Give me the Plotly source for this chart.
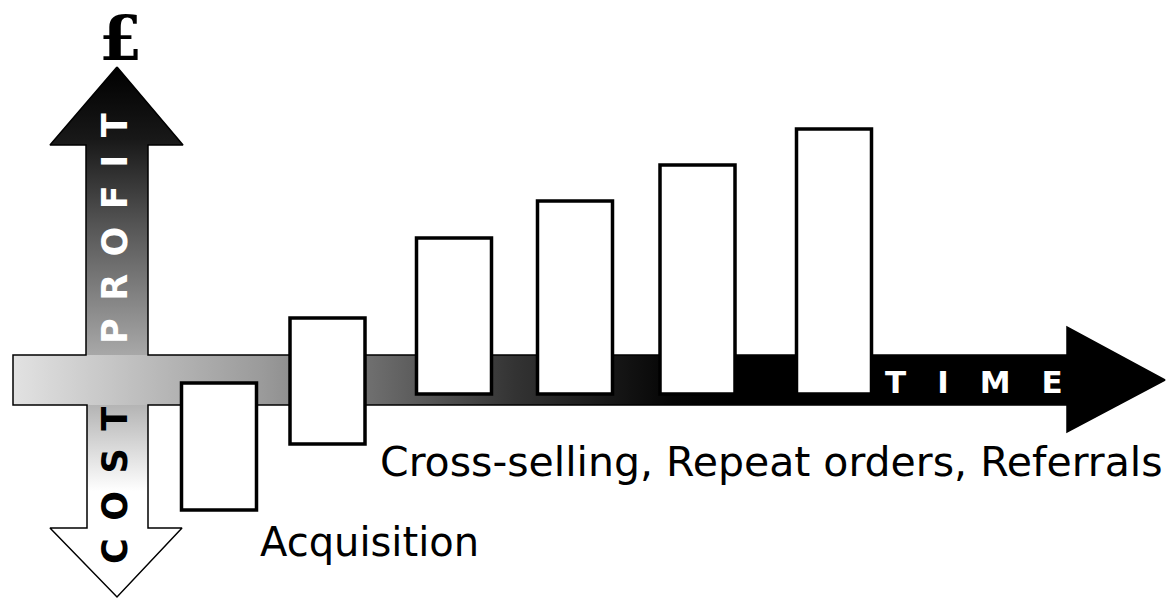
import plotly.graph_objects as go

# Bar data (diagram units, 0 = time axis)
stage_x = [219, 327.5, 454, 575, 697.5, 834]
stage_base = [-130, -64, -14, -14, -14, -14]
stage_top = [-3, 62, 142, 179, 215, 251]
stage_height = [t - b for t, b in zip(stage_top, stage_base)]

# Arrow geometry (decoration)
X_RANGE = [0, 1166]
Y_RANGE = [-219, 380]

h_arrow_x = [13, 1067, 1067, 1165, 1067, 1067, 13, 13]
h_arrow_y = [25, 25, 53, 0, -52, -25, -25, 25]
up_arrow_x = [86, 86, 50, 117, 183, 148, 148, 86]
up_arrow_y = [25, 235, 235, 313, 235, 235, 25, 25]
down_arrow_x = [87, 87, 50, 117, 182, 148, 148, 87]
down_arrow_y = [-25, -148, -148, -217, -148, -148, -25, -25]
outline_x = [117, 183, 148, 148, 1067, 1067, 1165, 1067, 1067, 148, 148, 182, 117,
             50, 87, 87, 13, 13, 86, 86, 50, 117]
outline_y = [313, 235, 235, 25, 25, 53, 0, -52, -25, -25, -148, -148, -217,
             -148, -148, -25, -25, 25, 25, 235, 235, 313]

fig = go.Figure()

# horizontal (time) arrow
fig.add_trace(go.Scatter(
    x=h_arrow_x, y=h_arrow_y, mode="lines", fill="toself",
    line=dict(width=0),
    fillgradient=dict(type="horizontal", start=13, stop=730,
                      colorscale=[[0, "#e2e2e2"], [0.35, "#9a9a9a"],
                                  [0.7, "#333333"], [0.92, "#050505"], [1, "#000000"]]),
    hoverinfo="skip"
))
# profit arrow
fig.add_trace(go.Scatter(
    x=up_arrow_x, y=up_arrow_y, mode="lines", fill="toself",
    line=dict(width=0),
    fillgradient=dict(type="vertical", start=25, stop=313,
                      colorscale=[[0, "#a8a8a8"], [0.45, "#555555"],
                                  [0.75, "#181818"], [1, "#000000"]]),
    hoverinfo="skip"
))
# cost arrow
fig.add_trace(go.Scatter(
    x=down_arrow_x, y=down_arrow_y, mode="lines", fill="toself",
    line=dict(width=0),
    fillgradient=dict(type="vertical", start=-217, stop=-25,
                      colorscale=[[0, "#ffffff"], [0.55, "#ffffff"], [1, "#b4b4b4"]]),
    hoverinfo="skip"
))
# cross outline
fig.add_trace(go.Scatter(
    x=outline_x, y=outline_y, mode="lines",
    line=dict(color="black", width=1.5),
    hoverinfo="skip"
))

# floating bars on an overlay axis so they sit above the arrows
fig.add_trace(go.Bar(
    x=stage_x, y=stage_height, base=stage_base, width=75,
    marker=dict(color="white", line=dict(color="black", width=3.5)),
    xaxis="x2", yaxis="y2", hoverinfo="skip"
))

EN = "\u2002"
EM = "\u2003"
bold = dict(family="DejaVu Sans", weight="bold")
annotations = [
    dict(x=120, y=380, text="£", yanchor="top",
         font=dict(family="DejaVu Serif", weight="bold", size=62, color="black")),
    dict(x=115, y=151, text=EN.join("PROFIT"), textangle=-90,
         font=dict(**bold, size=35, color="white")),
    dict(x=115, y=-106, text=EN.join("COST"), textangle=-90,
         font=dict(**bold, size=35, color="black")),
    dict(x=974, y=-2, text=EM.join("TIME"),
         font=dict(**bold, size=31, color="white")),
    dict(x=771, y=-82, text="Cross-selling, Repeat orders, Referrals",
         font=dict(family="DejaVu Sans", size=41, color="black")),
    dict(x=369, y=-162, text="Acquisition",
         font=dict(family="DejaVu Sans", size=40, color="black")),
]
for a in annotations:
    a.setdefault("yanchor", "middle")
    a.update(showarrow=False, xref="x", yref="y", xanchor="center")

axis_style = dict(visible=False, showgrid=False, zeroline=False, fixedrange=True)
fig.update_layout(
    width=1166, height=599,
    margin=dict(l=0, r=0, t=0, b=0),
    paper_bgcolor="white", plot_bgcolor="white",
    showlegend=False,
    xaxis=dict(range=X_RANGE, **axis_style),
    yaxis=dict(range=Y_RANGE, **axis_style),
    xaxis2=dict(range=X_RANGE, overlaying="x", **axis_style),
    yaxis2=dict(range=Y_RANGE, overlaying="y", **axis_style),
    annotations=annotations,
)

# drop the default page margin so the figure fills the window exactly
fig.write_html("out.html", config={"displayModeBar": False},
               post_script="document.body.style.margin='0';")
